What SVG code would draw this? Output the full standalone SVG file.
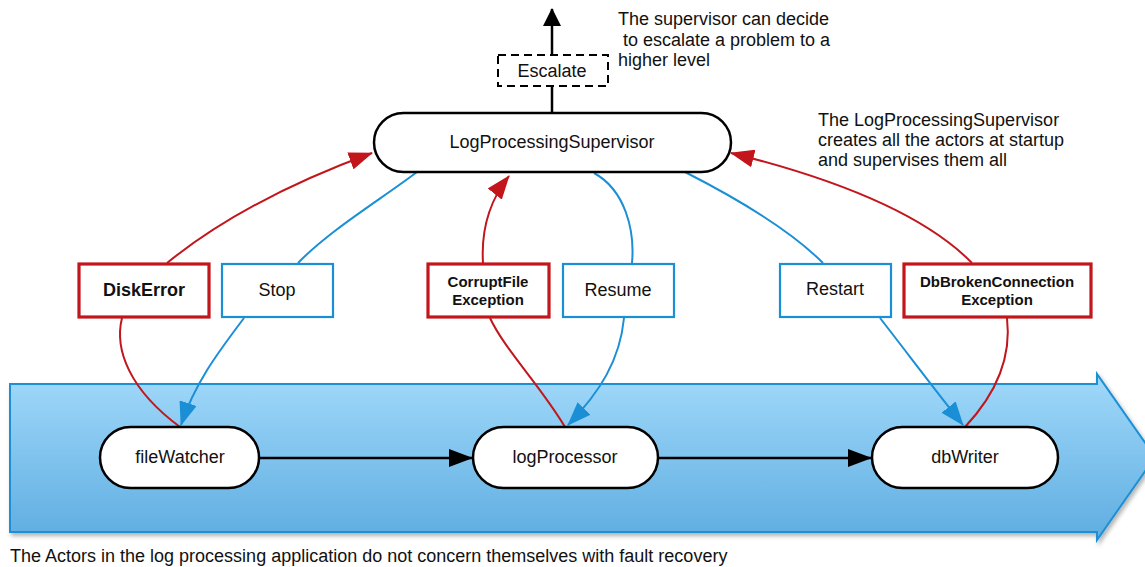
<svg xmlns="http://www.w3.org/2000/svg" width="1145" height="567" viewBox="0 0 1145 567">
  <style>
    text { font-family: "Liberation Sans", Arial, sans-serif; fill: #111; }
    .lbl { font-size: 18px; text-anchor: middle; }
    .note { font-size: 18px; }
    .exc { font-size: 15px; font-weight: bold; text-anchor: middle; }
    .excbig { font-size: 18px; font-weight: bold; text-anchor: middle; }
    .actor { fill: #fff; stroke: #000; stroke-width: 2.5; }
    .errbox { fill: #fff; stroke: #c2161c; stroke-width: 3.2; }
    .dirbox { fill: #fff; stroke: #1b8fd6; stroke-width: 2.2; }
    .red { fill: none; stroke: #c2161c; stroke-width: 2; }
    .blue { fill: none; stroke: #1b8fd6; stroke-width: 2; }
    .black { fill: none; stroke: #000; stroke-width: 2.5; }
  </style>
  <defs>
    <linearGradient id="pipeFill" x1="0" y1="0" x2="0" y2="1">
      <stop offset="0" stop-color="#a1d9fa"/>
      <stop offset="1" stop-color="#5eade1"/>
    </linearGradient>
    <filter id="shadow" x="-5%" y="-10%" width="115%" height="130%">
      <feDropShadow dx="2" dy="3" stdDeviation="2" flood-color="#000" flood-opacity="0.3"/>
    </filter>
    <marker id="arrRed" viewBox="0 0 24 18" refX="23" refY="9" markerWidth="24" markerHeight="18" markerUnits="userSpaceOnUse" orient="auto">
      <path d="M0,0 L24,9 L0,18 Z" fill="#c2161c"/>
    </marker>
    <marker id="arrBlue" viewBox="0 0 24 18" refX="23" refY="9" markerWidth="24" markerHeight="18" markerUnits="userSpaceOnUse" orient="auto">
      <path d="M0,0 L24,9 L0,18 Z" fill="#1b8fd6"/>
    </marker>
    <marker id="arrBlack" viewBox="0 0 24 18" refX="23" refY="9" markerWidth="24" markerHeight="18" markerUnits="userSpaceOnUse" orient="auto">
      <path d="M0,0 L24,9 L0,18 Z" fill="#000"/>
    </marker>
    <marker id="arrEsc" viewBox="0 0 18 18" refX="17" refY="9" markerWidth="18" markerHeight="18" markerUnits="userSpaceOnUse" orient="auto">
      <path d="M0,0 L18,9 L0,18 Z" fill="#000"/>
    </marker>
  </defs>

  <!-- pipeline band behind the actors -->
  <g id="pipeline">
    <path d="M10,384 H1097 V374 L1155,457 L1097,540 V532 H10 Z" fill="url(#pipeFill)" stroke="#1d8fd5" stroke-width="2" filter="url(#shadow)"/>
  </g>

  <!-- connectors -->
  <g id="connectors">
    <!-- escalation -->
    <path class="black" d="M552,113 V86"/>
    <path class="black" d="M552,55 V9" marker-end="url(#arrEsc)"/>
    <!-- actor flow -->
    <path class="black" d="M259,458 H472" marker-end="url(#arrBlack)"/>
    <path class="black" d="M658,458 H871" marker-end="url(#arrBlack)"/>
    <!-- failures reported upward -->
    <path class="red" d="M180,427 C130,390 114,350 122,318"/>
    <path class="red" d="M167,263 C220,220 290,183 372,153" marker-end="url(#arrRed)"/>
    <path class="red" d="M565,427 C540,385 505,350 490,318"/>
    <path class="red" d="M483,263 C481,230 490,200 509,176" marker-end="url(#arrRed)"/>
    <path class="red" d="M965,427 C995,395 1012,360 1007,318"/>
    <path class="red" d="M972,263 C920,210 820,175 731,153" marker-end="url(#arrRed)"/>
    <!-- supervisor directives -->
    <path class="blue" d="M417,172 C380,200 330,230 298,263"/>
    <path class="blue" d="M244,318 C220,350 195,382 181,425" marker-end="url(#arrBlue)"/>
    <path class="blue" d="M594,173 C625,190 635,230 632,263"/>
    <path class="blue" d="M624,318 C620,360 600,392 568,425" marker-end="url(#arrBlue)"/>
    <path class="blue" d="M685,172 C740,200 790,230 823,263"/>
    <path class="blue" d="M880,318 C905,350 935,390 963,425" marker-end="url(#arrBlue)"/>
  </g>

  <g id="escalate">
    <rect x="498" y="55" width="110" height="31" fill="#fff" stroke="#000" stroke-width="2" stroke-dasharray="8,5"/>
    <text class="lbl" x="552" y="77">Escalate</text>
  </g>

  <g id="supervisor">
    <rect class="actor" x="374" y="113" width="357" height="59" rx="29.5"/>
    <text class="lbl" x="552" y="148">LogProcessingSupervisor</text>
  </g>

  <g id="diskError">
    <rect class="errbox" x="79" y="264" width="130" height="53"/>
    <text class="excbig" x="144" y="296">DiskError</text>
  </g>
  <g id="stop">
    <rect class="dirbox" x="222" y="264" width="111" height="53"/>
    <text class="lbl" x="277" y="296">Stop</text>
  </g>
  <g id="corruptFile">
    <rect class="errbox" x="428" y="264" width="121" height="53"/>
    <text class="exc" x="488" y="287">CorruptFile</text>
    <text class="exc" x="488" y="305">Exception</text>
  </g>
  <g id="resume">
    <rect class="dirbox" x="563" y="264" width="111" height="53"/>
    <text class="lbl" x="618" y="296">Resume</text>
  </g>
  <g id="restart">
    <rect class="dirbox" x="780" y="264" width="111" height="53"/>
    <text class="lbl" x="835" y="295">Restart</text>
  </g>
  <g id="dbBroken">
    <rect class="errbox" x="904" y="264" width="187" height="53"/>
    <text class="exc" x="997" y="287">DbBrokenConnection</text>
    <text class="exc" x="997" y="305">Exception</text>
  </g>

  <g id="fileWatcher">
    <rect class="actor" x="100" y="427" width="159" height="61" rx="30.5"/>
    <text class="lbl" x="180" y="463">fileWatcher</text>
  </g>
  <g id="logProcessor">
    <rect class="actor" x="473" y="427" width="185" height="61" rx="30.5"/>
    <text class="lbl" x="565" y="463">logProcessor</text>
  </g>
  <g id="dbWriter">
    <rect class="actor" x="872" y="427" width="186" height="61" rx="30.5"/>
    <text class="lbl" x="965" y="463">dbWriter</text>
  </g>

  <g id="notes">
    <text class="note" x="618" y="25">The supervisor can decide</text>
    <text class="note" x="618" y="46" xml:space="preserve"> to escalate a problem to a</text>
    <text class="note" x="618" y="66">higher level</text>
    <text class="note" x="818" y="126">The LogProcessingSupervisor</text>
    <text class="note" x="818" y="146">creates all the actors at startup</text>
    <text class="note" x="818" y="166">and supervises them all</text>
    <text class="note" x="10" y="562">The Actors in the log processing application do not concern themselves with fault recovery</text>
  </g>
</svg>
